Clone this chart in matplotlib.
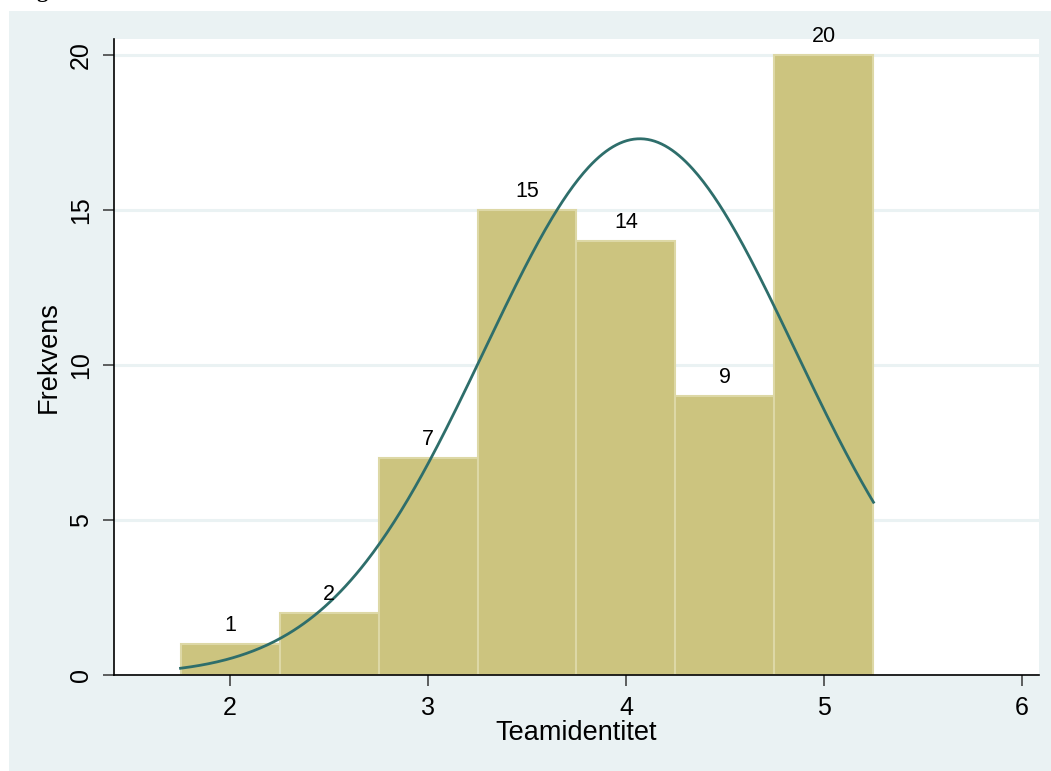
import numpy as np
import matplotlib
matplotlib.use("Agg")
import matplotlib.pyplot as plt
from matplotlib.patches import Rectangle

# Histogram of Teamidentitet (bin width 0.5) with fitted normal curve
bin_edges = [1.75, 2.25, 2.75, 3.25, 3.75, 4.25, 4.75, 5.25]
counts = [1, 2, 7, 15, 14, 9, 20]
x_ticks = [2, 3, 4, 5, 6]
y_ticks = [0, 5, 10, 15, 20]
fit_mean = 4.07
fit_sd = 0.784

plt.rcParams['font.family'] = ['Liberation Sans', 'DejaVu Sans']

fig = plt.figure(figsize=(10.51, 7.71), dpi=100)
fig.patch.set_facecolor('white')
bg = '#EAF2F3'
fig.patches.append(Rectangle((9 / 1051, 0), 1 - 9 / 1051, 1 - 11 / 771,
                             transform=fig.transFigure, facecolor=bg,
                             edgecolor='none', zorder=-5))
fig.text(36 / 1051, 1 + 2.5 / 771, 'g', family='Liberation Serif',
         fontweight='bold', fontsize=16, va='baseline', ha='left')

ax = fig.add_axes([114 / 1051, 96 / 771, 925 / 1051, 636 / 771])
ax.set_facecolor('white')

widths = np.diff(bin_edges)
lefts = np.array(bin_edges[:-1])
bars = ax.bar(lefts, counts, width=widths, align='edge', color='#CCC47F',
              edgecolor='#DDD8A6', linewidth=1.5, zorder=2)
for l, w, c in zip(lefts, widths, counts):
    ax.annotate(str(c), (l + w / 2, c), xytext=(0, 6),
                textcoords='offset points', ha='center', va='bottom',
                fontsize=15.5, zorder=4)

n = sum(counts)
bw = widths[0]
xs = np.linspace(bin_edges[0], bin_edges[-1], 400)
ys = n * bw / (fit_sd * np.sqrt(2 * np.pi)) * np.exp(-0.5 * ((xs - fit_mean) / fit_sd) ** 2)
ax.plot(xs, ys, color='#2E6E6B', linewidth=2.0, zorder=3)

ax.set_xlim(1.414, 6.086)
ax.set_ylim(0, 20.52)
ax.set_xticks(x_ticks)
ax.set_yticks(y_ticks)
ax.yaxis.grid(True, color=bg, linewidth=2.2, zorder=1)
ax.set_axisbelow(True)
for s in ['top', 'right']:
    ax.spines[s].set_visible(False)
for s in ['left', 'bottom']:
    ax.spines[s].set_color('black')
    ax.spines[s].set_linewidth(1.2)
ax.tick_params(axis='both', direction='out', length=8, width=1.2,
               color='#444444', labelsize=18, pad=7)
plt.setp(ax.get_yticklabels(), rotation=90, va='center')
ax.set_xlabel('Teamidentitet', fontsize=19.5, labelpad=0)
ax.set_ylabel('Frekvens', fontsize=19.5, labelpad=5)

fig.savefig('out.png', dpi=100, facecolor=fig.get_facecolor())
